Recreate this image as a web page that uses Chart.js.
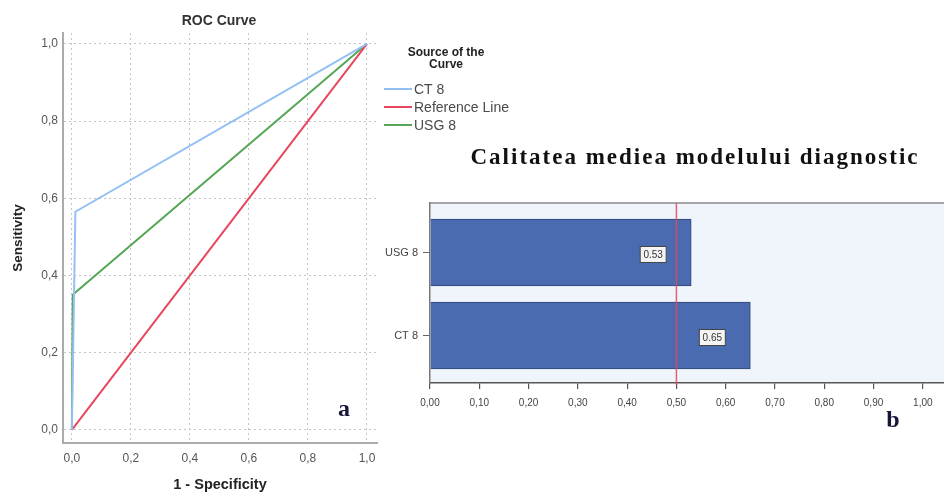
<!DOCTYPE html>
<html>
<head>
<meta charset="utf-8">
<script src="https://cdn.jsdelivr.net/npm/chart.js@4.4.1/dist/chart.umd.min.js"></script>
<style>
  html, body { margin: 0; padding: 0; background: #fff; overflow: hidden; }
  #wrap { position: relative; width: 944px; height: 495px; }
  #roc { position: absolute; left: 0; top: 0; }
  #bars { position: absolute; left: 375px; top: 130px; }
</style>
</head>
<body>
<div id="wrap">
  <canvas id="roc" width="520" height="495"></canvas>
  <canvas id="bars" width="569" height="365"></canvas>
</div>
<script>
// ROC curves: x = 1 - specificity, y = sensitivity
const rocSeriesNames = ['CT 8', 'Reference Line', 'USG 8'];
const ctFpr  = [0, 0.012, 1];
const ctTpr  = [0, 0.565, 1];
const refFpr = [0, 1];
const refTpr = [0, 1];
const usgFpr = [0, 0.003, 1];
const usgTpr = [0, 0.35, 1];
const rocTicks = [0, 0.2, 0.4, 0.6, 0.8, 1.0];

// Mean quality of the diagnostic model per method
const methods = ['USG 8', 'CT 8'];
const meanQuality = [0.53, 0.65];
const referenceLevel = 0.5;
const qualityTicks = [0, 0.1, 0.2, 0.3, 0.4, 0.5, 0.6, 0.7, 0.8, 0.9, 1.0];

const SANS = '"Liberation Sans", Arial, sans-serif';
const SERIF = '"Liberation Serif", "Times New Roman", serif';
Chart.defaults.font.family = SANS;

const comma = (v, d) => Number(v).toFixed(d).replace('.', ',');
const pts = (xs, ys) => xs.map((x, i) => ({ x, y: ys[i] }));

// ---------- ROC chart ----------
const rocDecor = {
  id: 'rocDecor',
  afterDraw(chart) {
    const ctx = chart.ctx;
    ctx.save();
    // title
    ctx.fillStyle = '#333';
    ctx.font = 'bold 14px ' + SANS;
    ctx.textAlign = 'center';
    ctx.textBaseline = 'middle';
    ctx.fillText('ROC Curve', 219, 21);
    // legend
    ctx.font = 'bold 12px ' + SANS;
    ctx.fillStyle = '#222';
    ctx.fillText('Source of the', 446, 53);
    ctx.fillText('Curve', 446, 65);
    ctx.textAlign = 'left';
    ctx.font = '14px ' + SANS;
    chart.data.datasets.forEach((ds, i) => {
      const y = 89 + i * 18;
      ctx.strokeStyle = ds.borderColor;
      ctx.lineWidth = 2;
      ctx.beginPath();
      ctx.moveTo(384, y);
      ctx.lineTo(412, y);
      ctx.stroke();
      ctx.fillStyle = '#4a4a4a';
      ctx.fillText(ds.label, 414, y + 1);
    });
    // panel letter
    ctx.font = 'bold 24px ' + SERIF;
    ctx.fillStyle = '#16163a';
    ctx.textAlign = 'center';
    ctx.fillText('a', 344, 410);
    ctx.restore();
  }
};

new Chart(document.getElementById('roc'), {
  type: 'scatter',
  data: {
    datasets: [
      { label: rocSeriesNames[0], data: pts(ctFpr, ctTpr), borderColor: '#93c0f4' },
      { label: rocSeriesNames[1], data: pts(refFpr, refTpr), borderColor: '#e8465f' },
      { label: rocSeriesNames[2], data: pts(usgFpr, usgTpr), borderColor: '#56a656' }
    ].map(d => Object.assign(d, {
      showLine: true, pointRadius: 0, borderWidth: 2, tension: 0, fill: false,
      backgroundColor: d.borderColor
    }))
  },
  options: {
    responsive: false,
    animation: false,
    layout: { padding: { top: 33, right: 143, bottom: 0, left: 0 } },
    plugins: { legend: { display: false }, tooltip: { enabled: false } },
    scales: {
      x: {
        type: 'linear', min: -0.03, max: 1.034,
        afterBuildTicks(s) { s.ticks = rocTicks.map(v => ({ value: v })); },
        afterFit(s) { s.height = 52; },
        ticks: { callback: v => comma(v, 1), color: '#555', font: { size: 12 }, padding: 8 },
        grid: { color: '#c4c4c4', lineWidth: 1, drawTicks: false },
        border: { color: '#ababab', width: 2, dash: [2, 3] },
        title: { display: true, text: '1 - Specificity', color: '#222',
                 font: { size: 14.5, weight: 'bold' }, padding: { top: 0, bottom: 1 } }
      },
      y: {
        type: 'linear', min: -0.034, max: 1.028,
        afterBuildTicks(s) { s.ticks = rocTicks.map(v => ({ value: v })); },
        afterFit(s) { s.width = 63; },
        ticks: { callback: v => comma(v, 1), color: '#555', font: { size: 12 }, padding: 5 },
        grid: { color: '#c4c4c4', lineWidth: 1, drawTicks: false },
        border: { color: '#ababab', width: 2, dash: [2, 3] },
        title: { display: true, text: 'Sensitivity', color: '#222',
                 font: { size: 13.5, weight: 'bold' }, padding: { top: 10, bottom: 0 } }
      }
    }
  },
  plugins: [rocDecor]
});

// ---------- Mean quality bar chart ----------
const barDecor = {
  id: 'barDecor',
  beforeDraw(chart) {
    const { ctx, chartArea: a } = chart;
    ctx.save();
    ctx.fillStyle = '#eff5fb';
    ctx.fillRect(a.left, a.top, a.right - a.left, a.bottom - a.top);
    ctx.strokeStyle = '#8a8a8a';
    ctx.lineWidth = 1.5;
    ctx.beginPath();
    ctx.moveTo(a.left, a.top);
    ctx.lineTo(a.right, a.top);
    ctx.stroke();
    ctx.restore();
  },
  afterDatasetsDraw(chart) {
    const { ctx, chartArea: a, scales: { x, y } } = chart;
    ctx.save();
    // reference level line
    const rx = x.getPixelForValue(referenceLevel);
    ctx.strokeStyle = 'rgba(228, 70, 95, 0.85)';
    ctx.lineWidth = 1.5;
    ctx.beginPath();
    ctx.moveTo(rx, a.top);
    ctx.lineTo(rx, a.bottom + 2);
    ctx.stroke();
    // value labels
    ctx.font = '10px ' + SANS;
    ctx.textAlign = 'center';
    ctx.textBaseline = 'middle';
    meanQuality.forEach((v, i) => {
      const cx = x.getPixelForValue(v) - 38;
      const cy = y.getPixelForValue(i + 1) + 2;
      ctx.fillStyle = '#f4f4f4';
      ctx.strokeStyle = '#444';
      ctx.lineWidth = 1;
      ctx.fillRect(cx - 13, cy - 8, 26, 16);
      ctx.strokeRect(cx - 13, cy - 8, 26, 16);
      ctx.fillStyle = '#333';
      ctx.fillText(v.toFixed(2), cx, cy + 1);
    });
    ctx.restore();
  },
  afterDraw(chart) {
    const ctx = chart.ctx;
    ctx.save();
    ctx.fillStyle = '#111';
    ctx.font = 'bold 23px ' + SERIF;
    ctx.textAlign = 'center';
    ctx.textBaseline = 'middle';
    if ('letterSpacing' in ctx) ctx.letterSpacing = '2px';
    ctx.fillText('Calitatea mediea modelului diagnostic', 320, 28);
    if ('letterSpacing' in ctx) ctx.letterSpacing = '0px';
    ctx.font = 'bold 24px ' + SERIF;
    ctx.fillStyle = '#16163a';
    ctx.fillText('b', 518, 291);
    ctx.restore();
  }
};

new Chart(document.getElementById('bars'), {
  type: 'bar',
  data: {
    datasets: [{
      data: meanQuality.map((v, i) => ({ x: v, y: i + 1 })),
      backgroundColor: '#4b6bb0',
      borderColor: '#2c4478',
      borderWidth: 1,
      borderSkipped: 'start',
      barThickness: 67
    }]
  },
  options: {
    indexAxis: 'y',
    responsive: false,
    animation: false,
    layout: { padding: { top: 73, right: 0, bottom: 0, left: 0 } },
    plugins: { legend: { display: false }, tooltip: { enabled: false } },
    scales: {
      x: {
        type: 'linear', min: 0, max: 1.043, offset: false,
        afterBuildTicks(s) { s.ticks = qualityTicks.map(v => ({ value: v })); },
        afterFit(s) { s.height = 112; },
        ticks: { callback: v => comma(v, 2), color: '#444', font: { size: 10 }, padding: 8 },
        grid: { offset: false, drawOnChartArea: false, drawTicks: true, tickLength: 6, color: '#555', lineWidth: 1.2 },
        border: { color: '#555', width: 1.5 }
      },
      y: {
        type: 'linear', reverse: true, min: 0.404, max: 2.572, offset: false,
        afterBuildTicks(s) { s.ticks = methods.map((m, i) => ({ value: i + 1 })); },
        afterFit(s) { s.width = 55; },
        ticks: { callback: v => methods[v - 1], color: '#444', font: { size: 11 }, padding: 5 },
        grid: { offset: false, drawOnChartArea: false, drawTicks: true, tickLength: 7, color: '#666', lineWidth: 1 },
        border: { color: '#7a7a7a', width: 1.5 }
      }
    }
  },
  plugins: [barDecor]
});
</script>
</body>
</html>
